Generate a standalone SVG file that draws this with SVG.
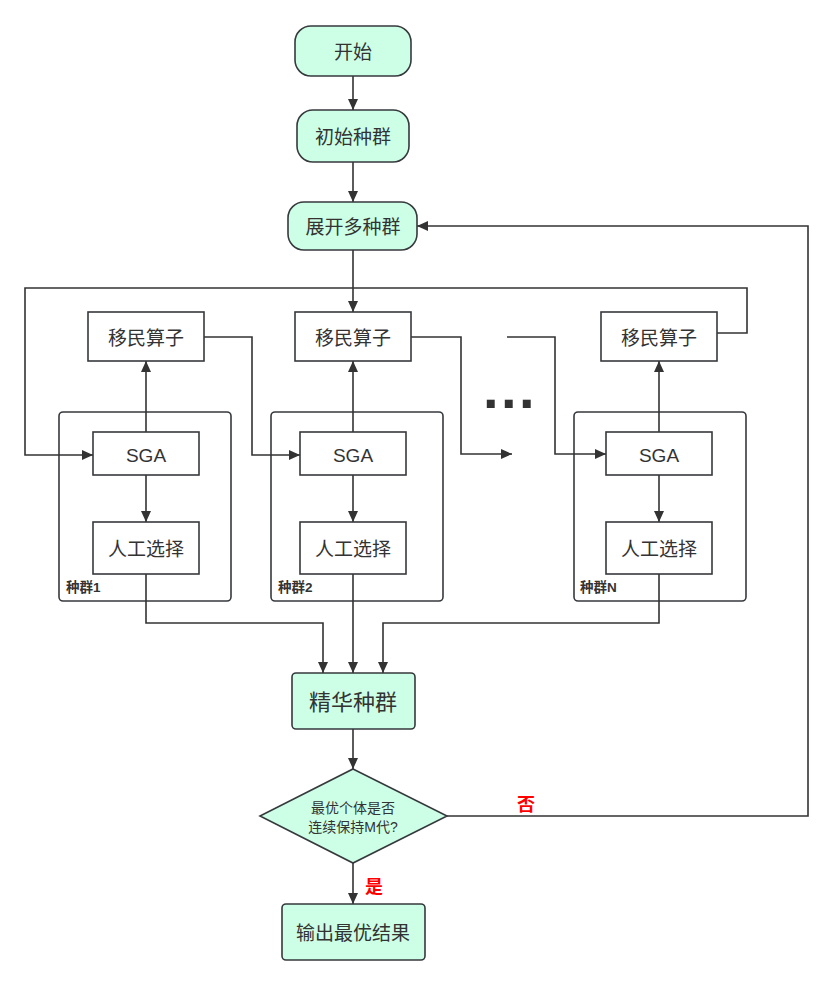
<svg xmlns="http://www.w3.org/2000/svg" width="832" height="988" viewBox="0 0 832 988">
<defs>
<style>
text{font-family:"Liberation Sans","Noto Sans CJK SC",sans-serif;fill:#333;text-anchor:middle;dominant-baseline:central}
.g{fill:#ccffe6;stroke:#36393d;stroke-width:1.6}
.b{fill:#fff;stroke:#36393d;stroke-width:1.6}
.c{fill:none;stroke:#36393d;stroke-width:1.6}
.ln{fill:none;stroke:#333;stroke-width:1.6;marker-end:url(#ah)}
.lb{font-size:13.5px;font-weight:bold;text-anchor:start}
.t{font-size:19px}
.red{fill:#ff0000;font-size:18px;font-weight:bold}
</style>
<marker id="ah" markerUnits="userSpaceOnUse" markerWidth="12" markerHeight="10" refX="11" refY="5" orient="auto">
<path d="M0,0 L11,5 L0,10 Z" fill="#333"/>
</marker>
</defs>
<rect width="832" height="988" fill="#fff"/>

<g id="pop1">
<rect class="c" x="59" y="412" width="172" height="189" rx="4"/>
<text class="lb" x="66" y="587">种群1</text>
</g>
<g id="pop2">
<rect class="c" x="271" y="412" width="172" height="189" rx="4"/>
<text class="lb" x="278" y="587">种群2</text>
</g>
<g id="popN">
<rect class="c" x="574" y="412" width="172" height="189" rx="4"/>
<text class="lb" x="580" y="587">种群N</text>
</g>

<g id="connectors">
<path class="ln" d="M353,76 V110"/>
<path class="ln" d="M353,162 V202"/>
<path class="ln" d="M353,250 V312"/>
<path class="ln" d="M146,432 V361"/>
<path class="ln" d="M146,475 V522"/>
<path class="ln" d="M353,432 V361"/>
<path class="ln" d="M353,475 V522"/>
<path class="ln" d="M659,432 V361"/>
<path class="ln" d="M659,475 V522"/>
<path class="ln" d="M204,337 H252 V455 H300"/>
<path class="ln" d="M411,337 H461 V454 H512"/>
<path class="ln" d="M507,337 H555 V454 H606"/>
<path class="ln" d="M717,333 H747 V288 H25 V455 H93"/>
<path class="ln" d="M146,574 V623 H323 V673"/>
<path class="ln" d="M353,574 V673"/>
<path class="ln" d="M659,574 V623 H383 V673"/>
<path class="ln" d="M353,729 V769"/>
<path class="ln" d="M353,863 V904"/>
<path class="ln" d="M447,816 H808 V226 H417"/>
</g>

<g id="start">
<rect class="g" x="295" y="26" width="116" height="50" rx="16"/>
<text class="t" x="353" y="52">开始</text>
</g>
<g id="init">
<rect class="g" x="297" y="110" width="112" height="52" rx="16"/>
<text class="t" x="353" y="137">初始种群</text>
</g>
<g id="expand">
<rect class="g" x="288" y="202" width="129" height="48" rx="16"/>
<text class="t" x="353" y="227">展开多种群</text>
</g>

<g id="mig1">
<rect class="b" x="88" y="312" width="116" height="49"/>
<text class="t" x="146" y="338">移民算子</text>
</g>
<g id="sga1">
<rect class="b" x="93" y="432" width="106" height="43"/>
<text class="t" x="146" y="455">SGA</text>
</g>
<g id="sel1">
<rect class="b" x="93" y="522" width="106" height="52"/>
<text class="t" x="146" y="549">人工选择</text>
</g>

<g id="mig2">
<rect class="b" x="295" y="312" width="116" height="49"/>
<text class="t" x="353" y="338">移民算子</text>
</g>
<g id="sga2">
<rect class="b" x="300" y="432" width="106" height="43"/>
<text class="t" x="353" y="455">SGA</text>
</g>
<g id="sel2">
<rect class="b" x="300" y="522" width="106" height="52"/>
<text class="t" x="353" y="549">人工选择</text>
</g>

<g id="migN">
<rect class="b" x="601" y="312" width="116" height="49"/>
<text class="t" x="659" y="338">移民算子</text>
</g>
<g id="sgaN">
<rect class="b" x="606" y="432" width="106" height="43"/>
<text class="t" x="659" y="455">SGA</text>
</g>
<g id="selN">
<rect class="b" x="606" y="522" width="106" height="52"/>
<text class="t" x="659" y="549">人工选择</text>
</g>

<g id="dots">
<text x="483" y="408" style="font-size:56px;font-weight:bold;text-anchor:start;dominant-baseline:alphabetic;letter-spacing:2.4px">...</text>
</g>

<g id="elite">
<rect class="g" x="292" y="673" width="123" height="56" rx="4"/>
<text x="353" y="702" style="font-size:22px">精华种群</text>
</g>
<g id="decision">
<path class="g" d="M353,769 L447,816 L353,863 L260,816 Z"/>
<text x="353" y="808" style="font-size:14px">最优个体是否</text>
<text x="353" y="827" style="font-size:14px">连续保持M代?</text>
</g>
<g id="output">
<rect class="g" x="282" y="904" width="143" height="56" rx="4"/>
<text class="t" x="353" y="933">输出最优结果</text>
</g>
<g id="labels">
<text class="red" x="526" y="805">否</text>
<text class="red" x="374" y="887">是</text>
</g>
</svg>
